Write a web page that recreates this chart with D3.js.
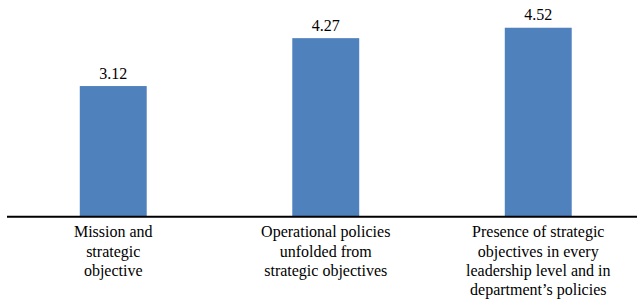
<!DOCTYPE html>
<html>
<head>
<meta charset="utf-8">
<script src="https://cdn.jsdelivr.net/npm/d3@7/dist/d3.min.js"></script>
<style>
  html, body { margin: 0; padding: 0; background: #fff; }
  svg { display: block; }
  svg text { font-family: "Liberation Serif", "Times New Roman", Times, serif; font-size: 16px; fill: #000; }
</style>
</head>
<body>
<svg id="chart" width="637" height="299"></svg>
<script>
const categories = [
  ["Mission and", "strategic", "objective"],
  ["Operational policies", "unfolded from", "strategic objectives"],
  ["Presence of strategic", "objectives in every", "leadership level and in", "department\u2019s policies"]
];
const values = [3.12, 4.27, 4.52];
const valueLabels = ["3.12", "4.27", "4.52"];
const yDomain = [0, 5];

const svg = d3.select("#chart");

const x = d3.scaleBand()
  .domain(d3.range(values.length))
  .range([7, 644.5])
  .paddingInner(0.685)
  .paddingOuter(0.3425);

const y = d3.scaleLinear().domain(yDomain).range([216, 7.75]);

svg.selectAll("rect.bar")
  .data(values)
  .join("rect")
  .attr("class", "bar")
  .attr("x", (d, i) => x(i))
  .attr("y", d => y(d))
  .attr("width", x.bandwidth())
  .attr("height", d => y(0) - y(d))
  .attr("fill", "#4F81BD");

svg.selectAll("text.val")
  .data(values)
  .join("text")
  .attr("class", "val")
  .attr("x", (d, i) => x(i) + x.bandwidth() / 2)
  .attr("y", d => y(d) - 7.5)
  .attr("text-anchor", "middle")
  .text((d, i) => valueLabels[i]);

// axis baseline
const axis = d3.axisBottom(x).tickSize(0).tickFormat("");
const axisG = svg.append("g").attr("transform", `translate(0, ${y(0) + 0.7})`).call(axis);
axisG.select(".domain").attr("stroke", "#000").attr("stroke-width", 2)
  .attr("d", `M7,0H637`);

// category labels
const catG = svg.selectAll("text.cat")
  .data(categories)
  .join("text")
  .attr("class", "cat")
  .attr("text-anchor", "middle");

catG.each(function(lines, i) {
  const t = d3.select(this);
  lines.forEach((ln, j) => {
    t.append("tspan")
      .attr("x", x(i) + x.bandwidth() / 2)
      .attr("y", 237.3 + j * 19.2)
      .text(ln);
  });
});
</script>
</body>
</html>
